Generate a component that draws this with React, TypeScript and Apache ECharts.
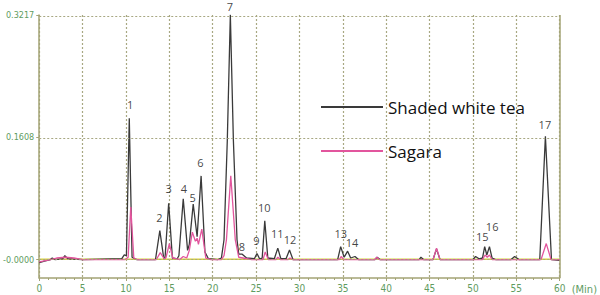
import React, { useEffect, useRef } from 'react';
import * as echarts from 'echarts';

const seriesNames = ['Shaded white tea', 'Sagara'];

// [retention time (min), absorbance]
const shadedWhiteTea: [number, number][] = [
  [0, -0.004], [0.6, -0.002], [1.3, 0.0], [1.5, 0.002], [1.8, 0.0], [2.7, 0.001], [2.95, 0.005], [3.3, 0.001],
  [5, 0.0], [9.5, 0.001], [9.8, 0.006], [10.05, 0.005], [10.38, 0.186], [10.7, 0.003], [11.2, 0.0],
  [13.4, 0.0], [13.9, 0.038], [14.35, 0.002], [14.5, 0.002], [14.92, 0.074], [15.35, 0.002], [15.9, 0.001],
  [16.1, 0.005], [16.6, 0.08], [17.1, 0.012], [17.3, 0.02], [17.75, 0.073], [18.2, 0.03], [18.66, 0.11],
  [19.1, 0.01], [19.5, 0.001], [20.6, 0.0], [21.0, 0.002], [21.3, 0.026], [21.68, 0.157], [22.03, 0.322],
  [22.38, 0.157], [22.8, 0.026], [23.0, 0.007], [23.4, 0.007], [23.9, 0.002], [24.8, 0.001], [25.1, 0.008],
  [25.4, 0.001], [25.7, 0.002], [26.0, 0.051], [26.35, 0.002], [27.1, 0.001], [27.5, 0.015], [27.85, 0.001],
  [28.45, 0.001], [28.85, 0.0125], [29.25, 0.0], [34.4, 0.0], [34.75, 0.017], [35.15, 0.003], [35.55, 0.011],
  [35.9, 0.002], [36.4, 0.004], [36.8, 0.0], [38.7, 0.0], [38.95, 0.003], [39.3, 0.0], [43.8, 0.0],
  [44.0, 0.003], [44.3, 0.0], [45.4, 0.0], [45.8, 0.014], [46.2, 0.0], [50.0, 0.0], [50.3, 0.004],
  [50.7, 0.001], [51.1, 0.002], [51.35, 0.017], [51.6, 0.006], [51.9, 0.017], [52.2, 0.002], [52.6, 0.0],
  [54.4, 0.0], [54.8, 0.004], [55.3, 0.0], [57.7, 0.0], [58.35, 0.162], [59.05, 0.0], [60, -0.001],
];

const sagara: [number, number][] = [
  [0, -0.003], [1.3, 0.0], [2.0, 0.002], [3.0, 0.003], [4.0, 0.002], [5.0, 0.0], [9.9, 0.0], [10.25, 0.003],
  [10.55, 0.069], [10.9, 0.002], [11.3, 0.0], [13.5, 0.0], [13.95, 0.009], [14.4, 0.001], [14.6, 0.002],
  [15.0, 0.021], [15.4, 0.002], [16.2, 0.0], [16.6, 0.004], [17.0, 0.002], [17.3, 0.012], [17.65, 0.036],
  [18.0, 0.024], [18.2, 0.028], [18.35, 0.02], [18.74, 0.04], [19.2, 0.002], [19.8, 0.0], [21.0, 0.0],
  [21.3, 0.005], [21.58, 0.026], [22.08, 0.11], [22.6, 0.026], [23.0, 0.003], [23.5, 0.002], [24.5, 0.0],
  [25.8, 0.0], [26.05, 0.01], [26.4, 0.0], [27.3, 0.0], [27.5, 0.003], [27.8, 0.0], [28.7, 0.0], [28.9, 0.002],
  [29.2, 0.0], [34.6, 0.0], [34.8, 0.004], [35.1, 0.0], [38.7, 0.0], [38.9, 0.003], [39.2, 0.0], [45.4, 0.0],
  [45.8, 0.015], [46.2, 0.0], [51.1, 0.0], [51.4, 0.006], [51.65, 0.003], [51.9, 0.006], [52.2, 0.0],
  [57.85, 0.0], [58.45, 0.021], [59.0, 0.0], [60, 0.0],
];

const baselineTrace: [number, number][] = [[0, 0.0004], [60, 0.0004]];

const peakNames = ['1', '2', '3', '4', '5', '6', '7', '8', '9', '10', '11', '12', '13', '14', '15', '16', '17'];
const peakLabelAnchors: [number, number][] = [
  [10.55, 0.2035], [13.9, 0.0542], [14.97, 0.0926], [16.72, 0.0926], [17.75, 0.0806], [18.63, 0.1265],
  [22.04, 0.3325], [23.41, 0.0168], [25.09, 0.0244], [26.0, 0.0674], [27.49, 0.0332], [28.96, 0.0257],
  [34.81, 0.0332], [36.11, 0.0221], [51.12, 0.0292], [52.27, 0.0429], [58.35, 0.177],
];

const xTickInterval = 5;
const xMin = 0;
const xMax = 60;
const xUnit = '(Min)';
const yMin = -0.0243;
const yMax = 0.3217;
const yTickValues = [0, 0.1608, 0.3217];
const yTickLabels = ['-0.0000', '0.1608', '0.3217'];

const OLIVE = '#a3a374';
const GRID = '#a8a882';
const GREEN = '#5f9c5f';

export default function App() {
  const ref = useRef<HTMLDivElement>(null);
  useEffect(() => {
    if (!ref.current) return;
    const chart = echarts.init(ref.current, undefined, { renderer: 'svg' });
    const gridDash = { color: GRID, type: [2, 2] as number[], width: 1.2 };
    chart.setOption({
      animation: false,
      backgroundColor: '#ffffff',
      grid: { left: 39, right: 36, top: 15, bottom: 17 },
      legend: {
        data: seriesNames,
        orient: 'vertical',
        left: 316,
        top: 92,
        itemWidth: 62,
        itemHeight: 2,
        itemGap: 24,
        itemStyle: { borderWidth: 0 },
        icon: 'rect',
        textStyle: { fontSize: 17, lineHeight: 20, color: '#111', fontFamily: 'Open Sans, Liberation Sans, sans-serif' },
      },
      xAxis: {
        type: 'value',
        min: xMin,
        max: xMax,
        interval: xTickInterval,
        name: xUnit,
        nameLocation: 'end',
        nameGap: 12,
        nameTextStyle: { color: GREEN, fontSize: 11, fontFamily: 'DejaVu Sans Condensed, sans-serif', verticalAlign: 'top', padding: [6, 0, 0, 0] },
        axisLine: { show: true, onZero: false, lineStyle: { color: OLIVE, width: 1.5 } },
        axisTick: { show: true, length: 3, lineStyle: { color: OLIVE } },
        minorTick: { show: true, splitNumber: 5, length: 2, lineStyle: { color: OLIVE } },
        axisLabel: { color: GREEN, fontSize: 10, margin: 5, fontFamily: 'DejaVu Sans Condensed, sans-serif' },
        splitLine: { show: true, lineStyle: gridDash },
      },
      yAxis: {
        type: 'value',
        min: yMin,
        max: yMax,
        axisLine: { show: true, onZero: false, lineStyle: { color: OLIVE, width: 1.5 } },
        axisTick: { show: true, length: 3, customValues: yTickValues, lineStyle: { color: OLIVE } },
        axisLabel: {
          color: GREEN,
          fontSize: 9,
          margin: 5,
          fontFamily: 'DejaVu Sans Condensed, sans-serif',
          customValues: yTickValues,
          formatter: (v: number) => {
            const i = yTickValues.findIndex((t) => Math.abs(t - v) < 1e-6);
            return i >= 0 ? yTickLabels[i] : '';
          },
        },
        splitLine: { show: false },
      },
      series: [
        {
          name: 'baseline',
          type: 'line',
          data: baselineTrace,
          showSymbol: false,
          silent: true,
          lineStyle: { color: '#d8d040', width: 1.5 },
          z: 1,
          markLine: {
            silent: true,
            symbol: 'none',
            label: { show: false },
            lineStyle: gridDash,
            data: [
              ...yTickValues.map((v) => ({ yAxis: v })),
              { xAxis: xMax, lineStyle: { color: OLIVE, type: 'solid', width: 1.5 } },
            ],
          },
        },
        {
          name: seriesNames[0],
          type: 'line',
          data: shadedWhiteTea,
          showSymbol: false,
          color: '#3a3a3a',
          lineStyle: { color: '#3a3a3a', width: 1.3 },
          z: 3,
        },
        {
          name: seriesNames[1],
          type: 'line',
          data: sagara,
          showSymbol: false,
          color: '#e2559d',
          lineStyle: { color: '#e2559d', width: 1.3 },
          z: 4,
        },
        {
          name: 'peaks',
          type: 'scatter',
          data: peakLabelAnchors.map((p, i) => ({ value: p, name: peakNames[i] })),
          symbolSize: 1,
          itemStyle: { color: 'rgba(0,0,0,0)' },
          clip: false,
          silent: true,
          z: 5,
          label: {
            show: true,
            position: [0, 0],
            align: 'center',
            verticalAlign: 'middle',
            lineHeight: 11,
            formatter: (p: any) => p.name,
            color: '#111111',
            fontSize: 11,
            fontFamily: 'Open Sans, Liberation Sans, sans-serif',
          },
        },
      ],
    });
    return () => chart.dispose();
  }, []);
  return <div ref={ref} style={{ position: 'fixed', left: 0, top: 0, width: 600, height: 295 }} />;
}
